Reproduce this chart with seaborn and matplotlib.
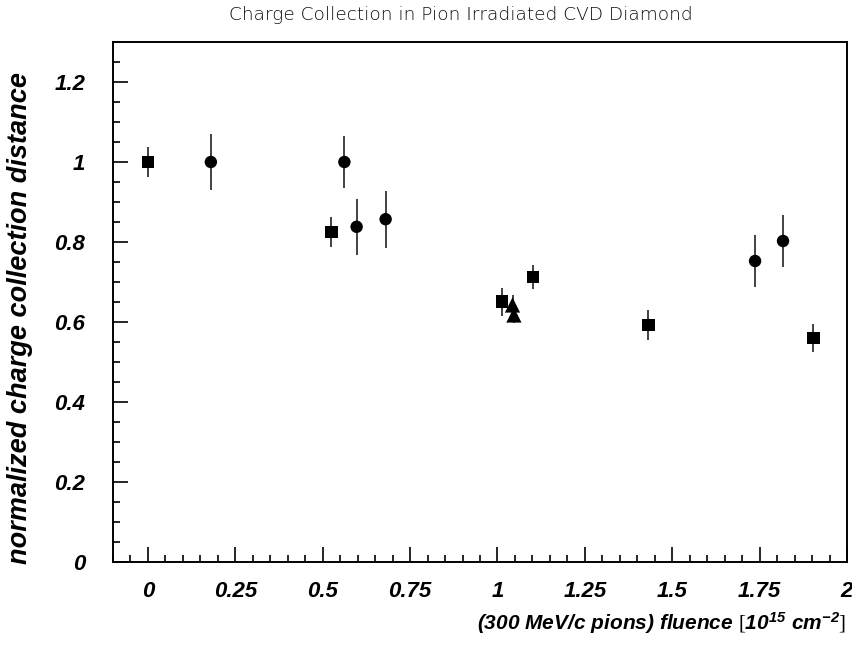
import matplotlib
matplotlib.use("Agg")
import matplotlib.pyplot as plt
import seaborn as sns
import pandas as pd
from matplotlib.ticker import MultipleLocator, FixedLocator

# ---- data ----
sq_x = [0.0, 0.525, 1.013, 1.102, 1.432, 1.904]
sq_y = [1.0, 0.825, 0.651, 0.713, 0.592, 0.560]
sq_err = [0.038, 0.038, 0.035, 0.030, 0.038, 0.036]

ci_x = [0.18, 0.562, 0.597, 0.68, 1.737, 1.817]
ci_y = [1.0, 1.0, 0.838, 0.857, 0.7525, 0.8025]
ci_err = [0.070, 0.065, 0.070, 0.071, 0.065, 0.065]

tr_x = [1.043, 1.047]
tr_y = [0.6425, 0.6175]
tr_err = [0.025, 0.020]

x_ticks = [0, 0.25, 0.5, 0.75, 1, 1.25, 1.5, 1.75, 2]
x_tick_labels = ["0", "0.25", "0.5", "0.75", "1", "1.25", "1.5", "1.75", "2"]
y_ticks = [0, 0.2, 0.4, 0.6, 0.8, 1.0, 1.2]
y_tick_labels = ["0", "0.2", "0.4", "0.6", "0.8", "1", "1.2"]

title = "Charge Collection in Pion Irradiated CVD Diamond"
ylabel = "normalized charge collection distance"

df = pd.concat([
    pd.DataFrame({"x": sq_x, "y": sq_y, "err": sq_err, "set": "sq"}),
    pd.DataFrame({"x": ci_x, "y": ci_y, "err": ci_err, "set": "ci"}),
    pd.DataFrame({"x": tr_x, "y": tr_y, "err": tr_err, "set": "tr"}),
], ignore_index=True)

sns.set_theme(style="white")
plt.rcParams["font.family"] = ["Liberation Sans", "DejaVu Sans"]
plt.rcParams["mathtext.fontset"] = "custom"
plt.rcParams["mathtext.rm"] = "Liberation Serif"
plt.rcParams["mathtext.bf"] = "Liberation Sans:bold:italic"
plt.rcParams["mathtext.it"] = "Liberation Sans:bold:italic"

fig = plt.figure(figsize=(8.52, 6.5), dpi=100)
ax = fig.add_axes([113 / 852, 88 / 650, 734 / 852, 520 / 650])

# error bars
for _, r in df.iterrows():
    ax.errorbar(r["x"], r["y"], yerr=r["err"], fmt="none", ecolor="#222222",
                elinewidth=1.2, capsize=0, zorder=2)

sns.scatterplot(data=df, x="x", y="y", style="set", size="set",
                markers={"sq": "s", "ci": "o", "tr": "^"},
                sizes={"sq": 78, "ci": 80, "tr": 120},
                color="black", linewidth=0, legend=False, ax=ax, zorder=3)

ax.set_xlim(-0.1, 2.0)
ax.set_ylim(0, 1.3)
ax.set_xlabel("")
ax.set_ylabel("")

ax.xaxis.set_major_locator(FixedLocator(x_ticks))
ax.yaxis.set_major_locator(FixedLocator(y_ticks))
ax.set_xticklabels(x_tick_labels)
ax.set_yticklabels(y_tick_labels)
ax.xaxis.set_minor_locator(MultipleLocator(0.05))
ax.yaxis.set_minor_locator(MultipleLocator(0.05))
ax.tick_params(which="both", direction="in", top=False, right=False,
               bottom=True, left=True, color="black", width=1.2)
ax.tick_params(which="major", length=10.5)
ax.tick_params(which="minor", length=5)
ax.tick_params(axis="x", which="major", pad=14, labelsize=16)
ax.tick_params(axis="y", which="major", pad=20, labelsize=16)
for lab in ax.get_xticklabels() + ax.get_yticklabels():
    lab.set_fontweight("bold")
    lab.set_fontstyle("italic")
    lab.set_color("black")

for sp in ax.spines.values():
    sp.set_color("black")
    sp.set_linewidth(1.4)

fig.text(461 / 852, 1 - 15 / 650, title, ha="center", va="center",
         fontsize=13.3, family="DejaVu Sans", fontweight="light", color="#111111")
fig.text(20 / 852, 1 - 318 / 650, ylabel, rotation=90, ha="center", va="center",
         fontsize=19.5, fontweight="bold", fontstyle="italic", color="black")
fig.text(846 / 852, 1 - 623 / 650,
         r"(300 MeV/c pions) fluence $\mathrm{[}\mathbf{10^{15}\ cm^{-2}}\mathrm{]}$",
         ha="right", va="center", fontsize=15, fontweight="bold",
         fontstyle="italic", color="black")

fig.savefig("out.png", dpi=100)
